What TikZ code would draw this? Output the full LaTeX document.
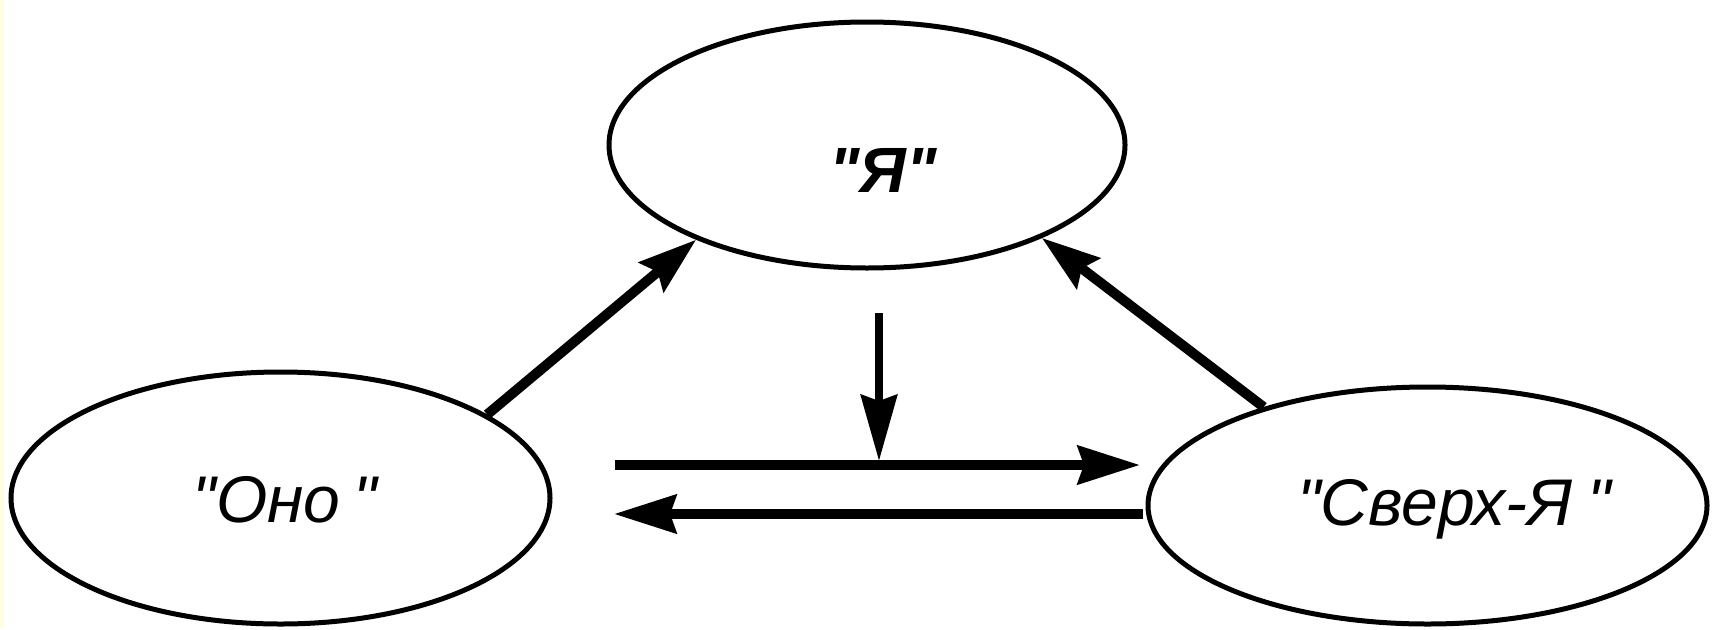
\documentclass[tikz,border=0pt]{standalone}
\usepackage{fontspec}
\newfontfamily\labfont{Liberation Sans}
\usetikzlibrary{shapes.geometric,arrows.meta}
\definecolor{edgeyellow}{HTML}{FFFDE2}
\begin{document}
\begin{tikzpicture}[x=1pt,y=-1pt,
  oval/.style={draw=black,ellipse,line width=5pt,inner sep=0pt},
  lbl/.style={anchor=base,inner sep=0pt,font=\labfont\fontsize{66}{70}\selectfont\itshape},
  diag arrow/.style={line width=10pt,-{Stealth[length=58pt,width=38pt,inset=8pt]}},
  flat arrow/.style={line width=10pt,-{Stealth[length=62pt,width=38pt,inset=6pt]}},
  down arrow/.style={line width=8pt,-{Stealth[length=66pt,width=36pt,inset=6pt]}}]
\useasboundingbox (0,0) rectangle (1715,629);
\fill[white] (0,0) rectangle (1715,629);
\fill[edgeyellow] (0,0) rectangle (4,629);
% ellipses
\node[oval,minimum width=516pt,minimum height=246pt] (ya) at (867,145) {};
\node[oval,minimum width=539pt,minimum height=252pt] (ono) at (280.5,498) {};
\node[oval,minimum width=559pt,minimum height=237pt] (sverh) at (1427.5,505.5) {};
% labels
\node[lbl,font=\labfont\fontsize{64}{70}\selectfont\bfseries\itshape] (tya) at (883,192) {"Я"};
\node[lbl] (tono) at (285,522) {"Оно\hspace{0.2em}"};
\node[lbl] (tsverh) at (1454,525) {"Сверх-Я\hspace{0.22em}"};
% connectors
\draw[diag arrow] (ono.22.6) -- (ya.209.5);
\draw[diag arrow] (sverh.149.1) -- (ya.332.4);
\coordinate (r1) at (615,465);
\coordinate (r2) at (1140,465);
\coordinate (l1) at (1143,514);
\coordinate (l2) at (614,514);
\coordinate (v1) at (879,313);
\coordinate (v2) at (879,461);
\draw[flat arrow] (r1) -- (r2);
\draw[flat arrow] (l1) -- (l2);
\draw[down arrow] (v1) -- (v2);
\end{tikzpicture}
\end{document}
